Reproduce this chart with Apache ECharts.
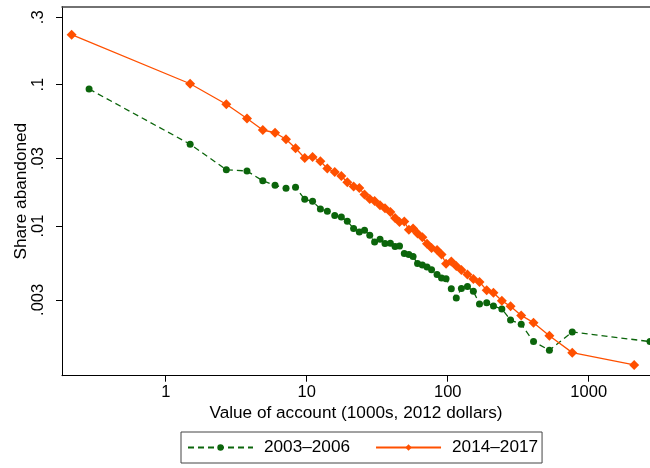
<!DOCTYPE html>
<html>
<head>
<meta charset="utf-8">
<script src="https://cdn.jsdelivr.net/npm/echarts@6/dist/echarts.min.js"></script>
<style>
  html, body { margin: 0; padding: 0; background: #fff; }
  #chart { width: 650px; height: 468px; }
</style>
</head>
<body>
<div id="chart"></div>
<script>
// Account value bins (1000s, 2012 dollars) shared by both periods
const accountBins = [1.49, 2.69, 3.77, 4.88, 5.96, 7.13, 8.33, 9.68, 11.0, 12.5, 14.0, 15.8, 17.6, 19.4, 21.5, 23.6,
  25.7, 28.0, 30.3, 33.1, 35.9, 39.2, 42.3, 45.5, 49.2, 53.0, 56.8, 61.1, 66.1, 71.3, 76.8, 84.0, 90.4, 97.3,
  106, 115, 125, 138, 152, 168, 189, 211, 242, 279, 332, 406, 526, 764];

const seriesNames = ['2003–2006', '2014–2017'];

// 2003–2006
const valueEarly = [0.286].concat(accountBins, [2720]);
const shareEarly = [0.0932, 0.0379, 0.0250, 0.0245, 0.0209, 0.0194, 0.0185, 0.0188, 0.01545, 0.01496, 0.0132, 0.0127,
  0.01187, 0.01158, 0.0108, 0.0096, 0.00907, 0.00934, 0.00861, 0.0077, 0.00805, 0.00752, 0.00754, 0.00716, 0.00722,
  0.00639, 0.00629, 0.00608, 0.00543, 0.0053, 0.00513, 0.0049, 0.00454, 0.00429, 0.00424, 0.0036, 0.00309, 0.00361,
  0.00373, 0.00345, 0.00281, 0.00286, 0.00271, 0.00259, 0.00216, 0.00202, 0.00152, 0.00132, 0.00178, 0.00152];

// 2014–2017
const valueLate = [0.215].concat(accountBins, [2100]);
const shareLate = [0.226, 0.1016, 0.0727, 0.0577, 0.0478, 0.0457, 0.0411, 0.0355, 0.0303, 0.0308, 0.0287, 0.0255,
  0.0241, 0.0226, 0.0204, 0.0190, 0.0186, 0.0167, 0.0155, 0.0150, 0.0140, 0.01335, 0.01257, 0.01139, 0.01067,
  0.01076, 0.00941, 0.0096, 0.00885, 0.00832, 0.00748, 0.00699, 0.00676, 0.00629, 0.0054, 0.00561, 0.00521,
  0.00488, 0.00454, 0.00422, 0.00402, 0.00351, 0.00337, 0.00296, 0.0027, 0.00233, 0.00207, 0.00167, 0.00127, 0.00104];

const xTicks = [1, 10, 100, 1000];
const xTickLabels = ['1', '10', '100', '1000'];
const yTicks = [0.003, 0.01, 0.03, 0.1, 0.3];
const yTickLabels = ['.003', '.01', '.03', '.1', '.3'];

const zip = (xs, ys) => xs.map((x, i) => [x, ys[i]]);
const lookup = (ticks, labels) => v => {
  const i = ticks.findIndex(t => Math.abs(t - v) / t < 1e-6);
  return i >= 0 ? labels[i] : '';
};

const FONT = 'Liberation Sans, Arial, Helvetica, sans-serif';
const GREEN = '#0b650b';
const ORANGE = '#ff5000';

const chart = echarts.init(document.getElementById('chart'), null, { renderer: 'canvas' });
chart.setOption({
  animation: false,
  backgroundColor: '#fff',
  textStyle: { fontFamily: FONT },
  grid: { left: 62, right: 0, top: 6.7, bottom: 92.3, containLabel: false },
  xAxis: [{
    type: 'log',
    min: 0.1838,
    max: 2720,
    name: 'Value of account (1000s, 2012 dollars)',
    nameLocation: 'middle',
    nameGap: 29,
    nameMoveOverlap: false,
    nameTextStyle: { fontSize: 17.2, color: '#000', fontFamily: FONT },
    axisLine: { show: true, onZero: false, lineStyle: { color: '#000', width: 1 } },
    axisTick: { show: true, length: 6, customValues: xTicks, lineStyle: { color: '#000' } },
    axisLabel: { customValues: xTicks, formatter: lookup(xTicks, xTickLabels), fontSize: 16.5, color: '#000', margin: 8, fontFamily: FONT },
    splitLine: { show: false },
    minorTick: { show: false }
  }, {
    // frame line along the top of the plot region
    type: 'value',
    position: 'top',
    min: 0, max: 1,
    axisLine: { show: true, onZero: false, lineStyle: { color: '#444', width: 1.5 } },
    axisTick: { show: false },
    axisLabel: { show: false },
    splitLine: { show: false }
  }],
  yAxis: {
    type: 'log',
    min: 0.000872,
    max: 0.3565,
    name: 'Share abandoned',
    nameLocation: 'middle',
    nameGap: 32,
    nameMoveOverlap: false,
    nameTextStyle: { fontSize: 17.2, color: '#000', fontFamily: FONT },
    axisLine: { show: true, onZero: false, lineStyle: { color: '#000', width: 1 } },
    axisTick: { show: true, length: 6, customValues: yTicks, lineStyle: { color: '#000' } },
    axisLabel: { customValues: yTicks, formatter: lookup(yTicks, yTickLabels), rotate: 90, fontSize: 16.5, color: '#000', margin: 15, fontFamily: FONT },
    splitLine: { show: false },
    minorTick: { show: false }
  },
  legend: {
    left: 181,
    top: 432,
    orient: 'horizontal',
    itemWidth: 65,
    itemHeight: 8,
    itemGap: 25,
    padding: [7, 4, 7, 6],
    borderColor: '#444',
    borderWidth: 1,
    backgroundColor: '#fff',
    textStyle: { fontSize: 17.2, color: '#000', fontFamily: FONT, padding: [0, 0, 0, 6] },
    data: seriesNames
  },
  series: [{
    name: seriesNames[0],
    type: 'line',
    data: zip(valueEarly, shareEarly),
    symbol: 'circle',
    symbolSize: 7,
    showAllSymbol: true,
    itemStyle: { color: GREEN },
    lineStyle: { color: GREEN, width: 1.3, type: [6, 4] },
    z: 2
  }, {
    name: seriesNames[1],
    type: 'line',
    data: zip(valueLate, shareLate),
    symbol: 'diamond',
    symbolSize: 10,
    showAllSymbol: true,
    itemStyle: { color: ORANGE },
    lineStyle: { color: ORANGE, width: 1.3 },
    z: 3
  }]
});
</script>
</body>
</html>
